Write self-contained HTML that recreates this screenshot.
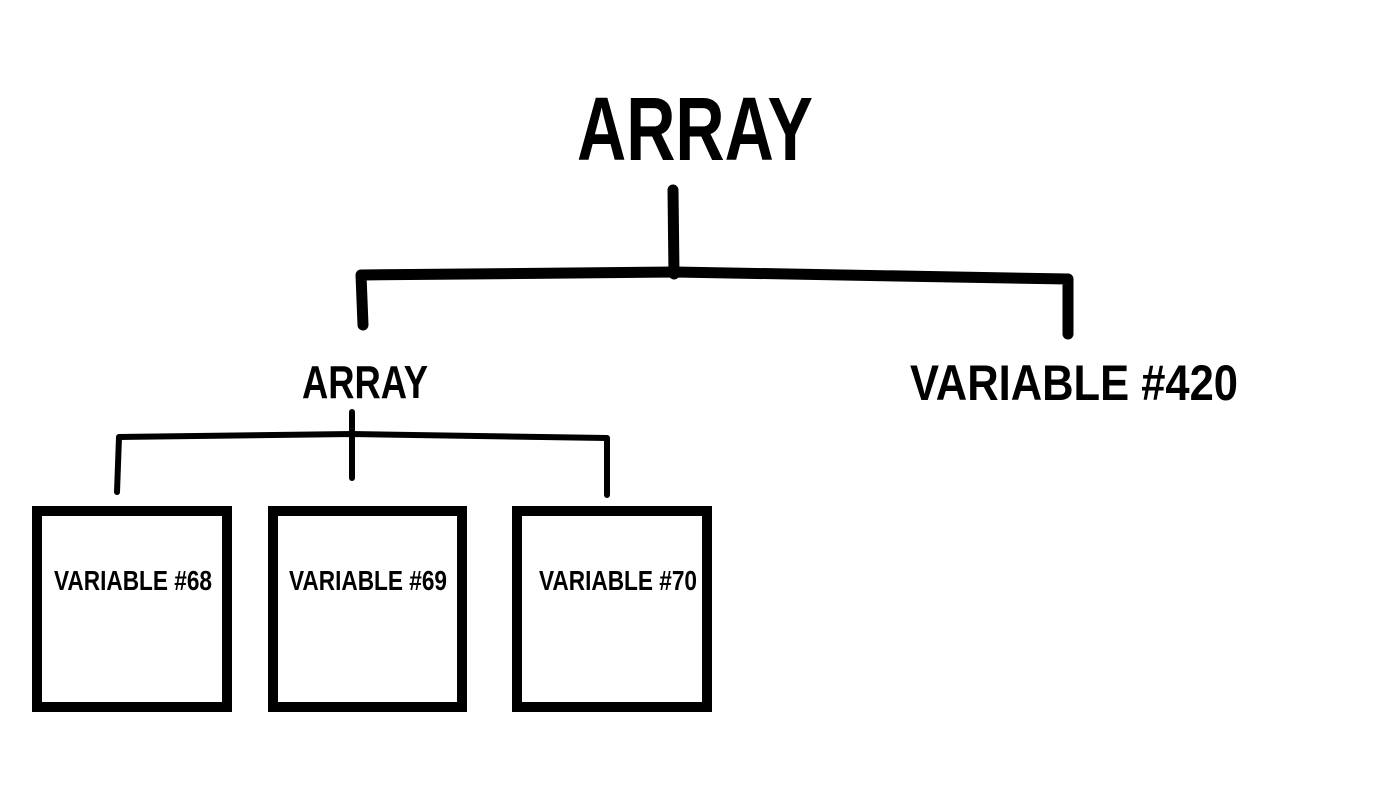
<!DOCTYPE html>
<html><head><meta charset="utf-8"><style>
html,body{margin:0;padding:0;background:#fff;}
svg{display:block}
text{font-family:"Liberation Sans Narrow","Liberation Sans",sans-serif;font-weight:bold;fill:#000}
</style></head><body>
<svg width="1400" height="788" viewBox="0 0 1400 788" xmlns="http://www.w3.org/2000/svg">
<rect width="1400" height="788" fill="#fff"/>
<text x="577" y="160" font-size="90" textLength="236" lengthAdjust="spacingAndGlyphs">ARRAY</text>
<text x="302" y="398" font-size="46" textLength="126" lengthAdjust="spacingAndGlyphs">ARRAY</text>
<text x="910" y="400" font-size="50" textLength="328" lengthAdjust="spacingAndGlyphs">VARIABLE #420</text>
<g stroke="#000" stroke-linecap="round" stroke-linejoin="round" fill="none">
<path d="M673 190 L674 274" stroke-width="11"/>
<path d="M363 325 L361 275 L675 272 L1068 279 L1068 334" stroke-width="11"/>
<path d="M352 412 L352 478" stroke-width="6"/>
<path d="M117 492 L119 437 L352 434 L607 438 L607 495" stroke-width="6"/>
</g>
<g fill="none" stroke="#000" stroke-width="10">
<rect x="37" y="511" width="190" height="196"/>
<rect x="273" y="511" width="189" height="196"/>
<rect x="517" y="511" width="190" height="196"/>
</g>
<text x="54" y="590" font-size="28" textLength="158" lengthAdjust="spacingAndGlyphs">VARIABLE #68</text>
<text x="289" y="590" font-size="28" textLength="158" lengthAdjust="spacingAndGlyphs">VARIABLE #69</text>
<text x="539" y="590" font-size="28" textLength="158" lengthAdjust="spacingAndGlyphs">VARIABLE #70</text>
</svg>
</body></html>
